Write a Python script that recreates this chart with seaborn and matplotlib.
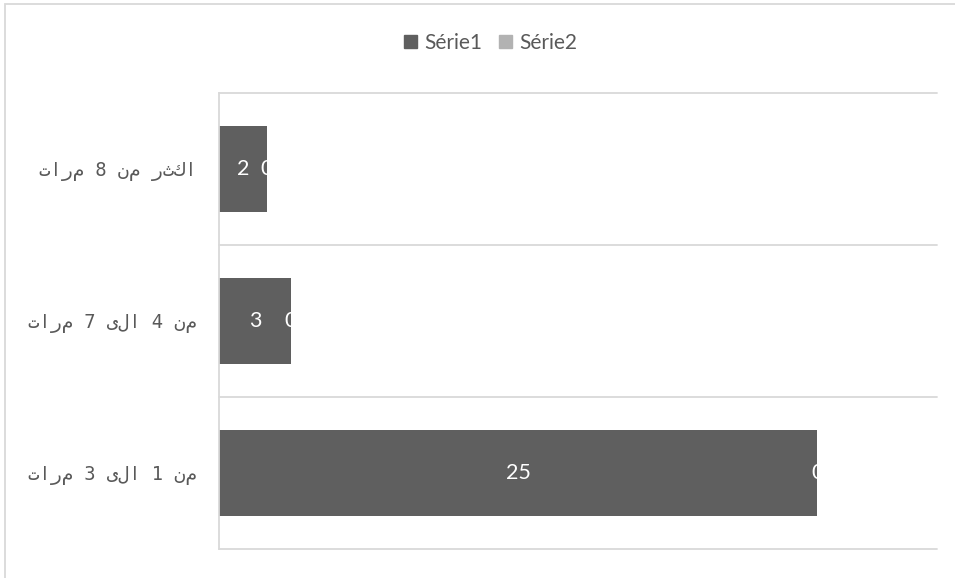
import matplotlib
matplotlib.use("Agg")
import matplotlib.pyplot as plt
import matplotlib.patches as mpatches
import seaborn as sns
import pandas as pd

# Data (top to bottom as displayed)
categories = ["اكثر من 8 مرات", "من 4 الى 7 مرات", "من 1 الى 3 مرات"]
serie1 = [2, 3, 25]
serie2 = [0, 0, 0]
series_names = ["Série1", "Série2"]

c1 = "#5f5f5f"
c2 = "#b2b2b2"
grid_c = "#d9d9d9"
text_c = "#595959"

sns.set_theme(style="white")
plt.rcParams["font.family"] = ["DejaVu Sans"]

W, H = 955, 578
fig = plt.figure(figsize=(W / 100, H / 100), dpi=100)
ax = fig.add_axes([219 / W, 1 - 549 / H, (937 - 219) / W, (549 - 93) / H])

df = pd.DataFrame({"cat": categories, "Série1": serie1, "Série2": serie2})
bar_h = 0.56

sns.barplot(data=df, y="cat", x="Série1", orient="h", color=c1,
            width=bar_h, saturation=1, ax=ax, linewidth=0)
bars1 = list(ax.containers[0])

# Second series stacked after the first
ax.barh(range(len(categories)), df["Série2"], left=df["Série1"],
        height=bar_h, color=c2, linewidth=0)

ax.set_xlim(0, 30)
ax.set_ylim(2.5, -0.5)
ax.set_xlabel("")
ax.set_ylabel("")
ax.set_xticks([])

# Category labels laid out left-to-right, letter by letter
ax.set_yticks(range(len(categories)))
ax.set_yticklabels([c[::-1] for c in categories])
ax.tick_params(axis="y", length=0, pad=16, labelcolor=text_c)
for lab in ax.get_yticklabels():
    lab.set_fontfamily(["DejaVu Sans Mono", "DejaVu Sans"])
    lab.set_fontsize(13.5)

for s in ["top", "right", "bottom"]:
    ax.spines[s].set_visible(False)
ax.spines["left"].set_color(grid_c)
ax.spines["left"].set_linewidth(1.3)

for yb in [-0.5, 0.5, 1.5, 2.5]:
    ax.axhline(yb, color=grid_c, lw=1.3, zorder=0, clip_on=False)

# Value labels
for i, (v1, v2) in enumerate(zip(serie1, serie2)):
    ax.text(v1 / 2, i, str(v1), ha="center", va="center", color="white",
            fontsize=15.5, family="Lato")
    t = ax.text(v1 + v2, i, str(v2), ha="center", va="center", color="white",
                fontsize=15.5, family="Lato")
    t.set_clip_path(bars1[i])

# Legend
handles = [mpatches.Patch(color=c1, label=series_names[0]),
           mpatches.Patch(color=c2, label=series_names[1])]
fig.legend(handles=handles, loc="center", bbox_to_anchor=(491 / W, 1 - 43 / H),
           ncol=2, frameon=False, prop={"family": "Lato", "size": 15},
           handlelength=0.6, handleheight=0.6, handletextpad=0.38,
           columnspacing=0.8, labelcolor=text_c, borderaxespad=0, borderpad=0)

# Chart frame
fig.add_artist(mpatches.Rectangle((5 / W, -0.1), 1.2, 1 - 4 / H + 0.1,
                                  transform=fig.transFigure, fill=False,
                                  edgecolor=grid_c, lw=1.3))

fig.savefig("out.png", dpi=100)
